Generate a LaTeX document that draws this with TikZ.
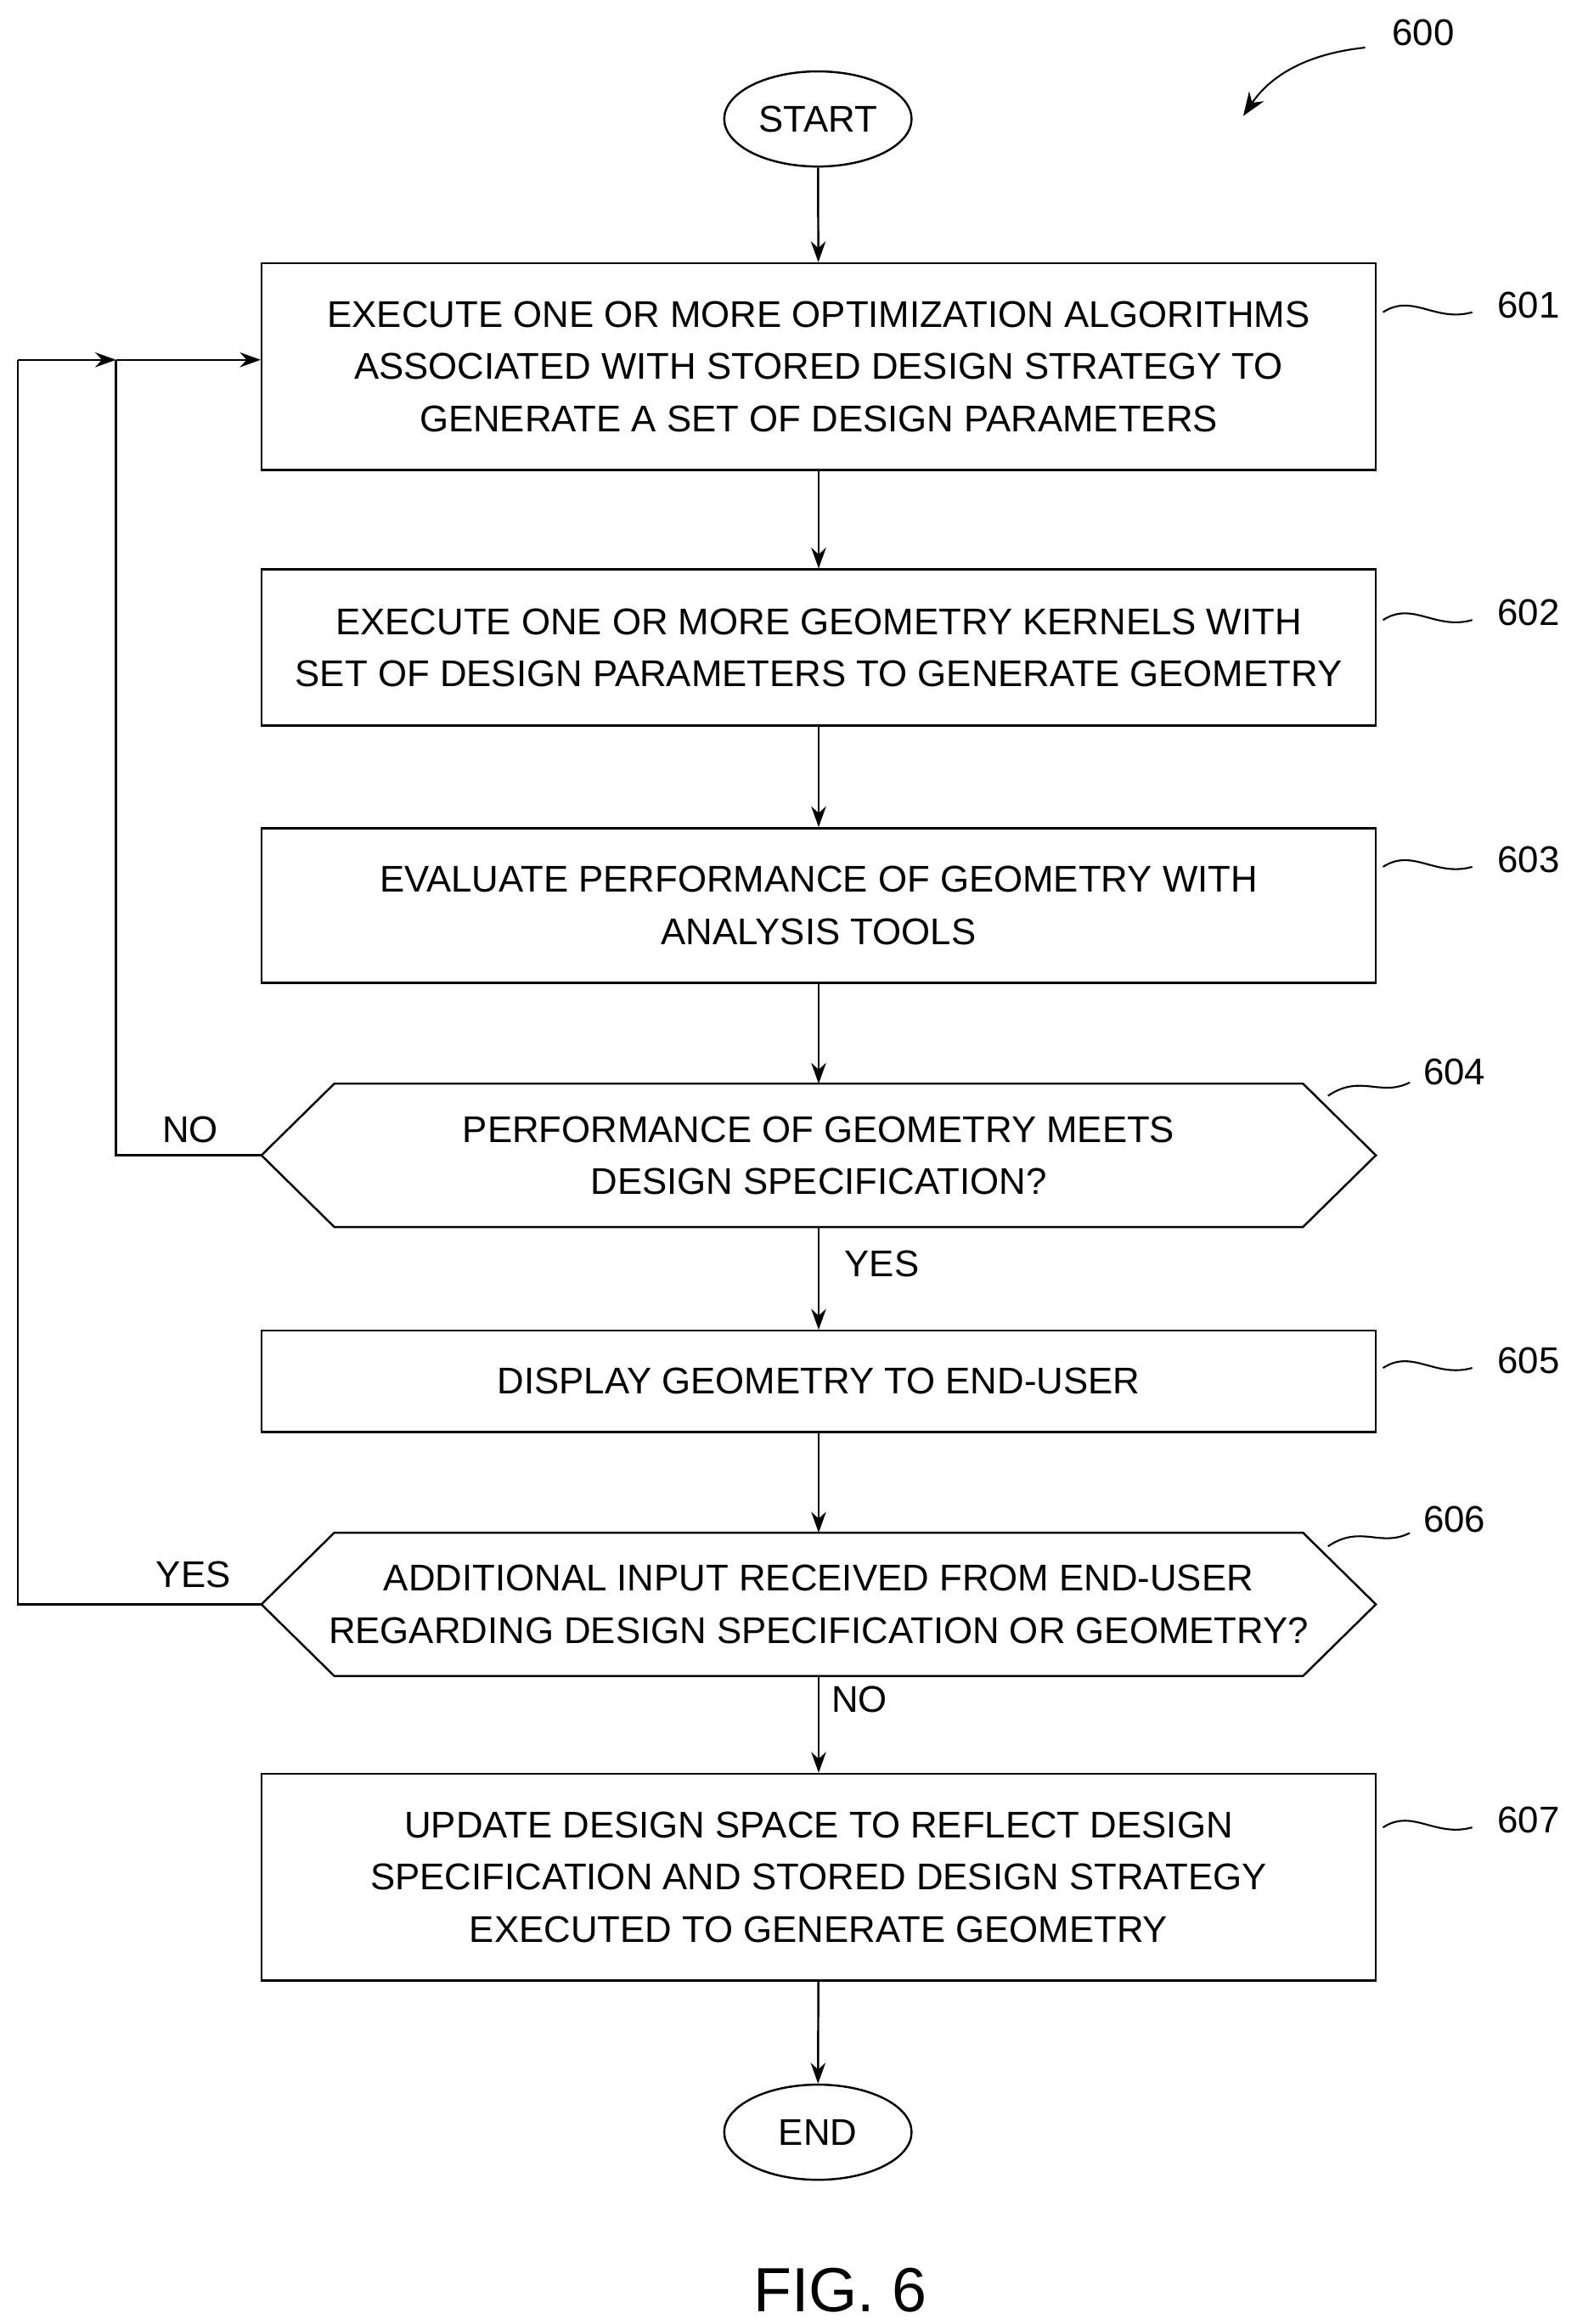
\documentclass[tikz,border=0pt]{standalone}
\usepackage{fontspec}
\setmainfont{Liberation Sans}
\usetikzlibrary{shapes.geometric,arrows.meta}
\begin{document}
\begin{tikzpicture}[x=1pt,y=-1pt,
  every node/.style={font=\fontsize{25}{35}\selectfont},
  box/.style={draw,line width=1.4pt,minimum width=749pt,align=center,inner sep=0pt},
  term/.style={draw,line width=1.4pt,ellipse,minimum width=126pt,minimum height=64pt,inner sep=0pt},
  hexn/.style={minimum width=749pt,minimum height=96pt,align=center,inner sep=0pt},
  hexl/.style={line width=1.4pt},
  ar/.style={line width=1.4pt,-{Stealth[length=14pt,width=10pt]}},
  ln/.style={line width=1.4pt},
  sq/.style={line width=1.2pt},
  lab/.style={font=\fontsize{25}{30}\selectfont}]
\useasboundingbox (0,0) rectangle (1060,1563);
\node[term] (start) at (550,80) {START};
\node[box,minimum height=139pt] (b1) at (550.5,246.5) {EXECUTE ONE OR MORE OPTIMIZATION ALGORITHMS\\ASSOCIATED WITH STORED DESIGN STRATEGY TO\\GENERATE A SET OF DESIGN PARAMETERS};
\node[box,minimum height=105pt] (b2) at (550.5,435.5) {EXECUTE ONE OR MORE GEOMETRY KERNELS WITH\\SET OF DESIGN PARAMETERS TO GENERATE GEOMETRY};
\node[box,minimum height=104pt] (b3) at (550.5,609) {EVALUATE PERFORMANCE OF GEOMETRY WITH\\ANALYSIS TOOLS};
\node[hexn] (d4) at (550.5,777) {PERFORMANCE OF GEOMETRY MEETS\\DESIGN SPECIFICATION?};
\draw[hexl] (d4.west) -- ([xshift=49pt]d4.north west) -- ([xshift=-49pt]d4.north east) -- (d4.east) -- ([xshift=-49pt]d4.south east) -- ([xshift=49pt]d4.south west) -- cycle;
\node[box,minimum height=68pt] (b5) at (550.5,929) {DISPLAY GEOMETRY TO END-USER};
\node[hexn] (d6) at (550.5,1079) {ADDITIONAL INPUT RECEIVED FROM END-USER\\REGARDING DESIGN SPECIFICATION OR GEOMETRY?};
\draw[hexl] (d6.west) -- ([xshift=49pt]d6.north west) -- ([xshift=-49pt]d6.north east) -- (d6.east) -- ([xshift=-49pt]d6.south east) -- ([xshift=49pt]d6.south west) -- cycle;
\node[box,minimum height=139pt] (b7) at (550.5,1262.5) {UPDATE DESIGN SPACE TO REFLECT DESIGN\\SPECIFICATION AND STORED DESIGN STRATEGY\\EXECUTED TO GENERATE GEOMETRY};
\node[term] (end) at (550,1434) {END};
\node[font=\fontsize{42}{50}\selectfont] (fig) at (565,1540) {FIG. 6};

\draw[ar] (start) -- (b1);
\draw[ar] (b1) -- (b2);
\draw[ar] (b2) -- (b3);
\draw[ar] (b3) -- (d4);
\draw[ar] (d4) -- (b5);
\draw[ar] (b5) -- (d6);
\draw[ar] (d6) -- (b7);
\draw[ar] (b7) -- (end);

\coordinate (n1) at (78,777);
\coordinate (n2) at (78,242);
\coordinate (o1) at (12,1079);
\coordinate (o2) at (12,242);
\draw[ln] (d4.west) -- (n1) -- (n2);
\draw[ar] (n2) -- (b1.west |- n2);
\draw[ln] (d6.west) -- (o1) -- (o2);
\draw[ar] (o2) -- (n2);

\node[lab] (no1) at (128,760) {NO};
\node[lab] (yes1) at (130,1059) {YES};
\node[lab] (yes2) at (593,850) {YES};
\node[lab] (no2) at (578,1143) {NO};

\node[lab] (r600) at (957,22) {600};
\draw[sq,-{Stealth[length=16pt,width=12pt]}] (918,32) .. controls (880,36) and (855,50) .. (836,78);
\foreach \n/\y in {601/205,602/412,603/578,605/915,607/1224}{
  \node[lab] (r\n) at (1028,\y) {\n};
  \draw[sq] (930,\y+5) .. controls (950,\y-8) and (965,\y+12) .. (990,\y+5);
}
\node[lab] (r604) at (978,721) {604};
\draw[sq] (893,737) .. controls (915,722) and (928,738) .. (948,728);
\node[lab] (r606) at (978,1022) {606};
\draw[sq] (893,1040) .. controls (915,1025) and (928,1041) .. (948,1031);
\end{tikzpicture}
\end{document}
